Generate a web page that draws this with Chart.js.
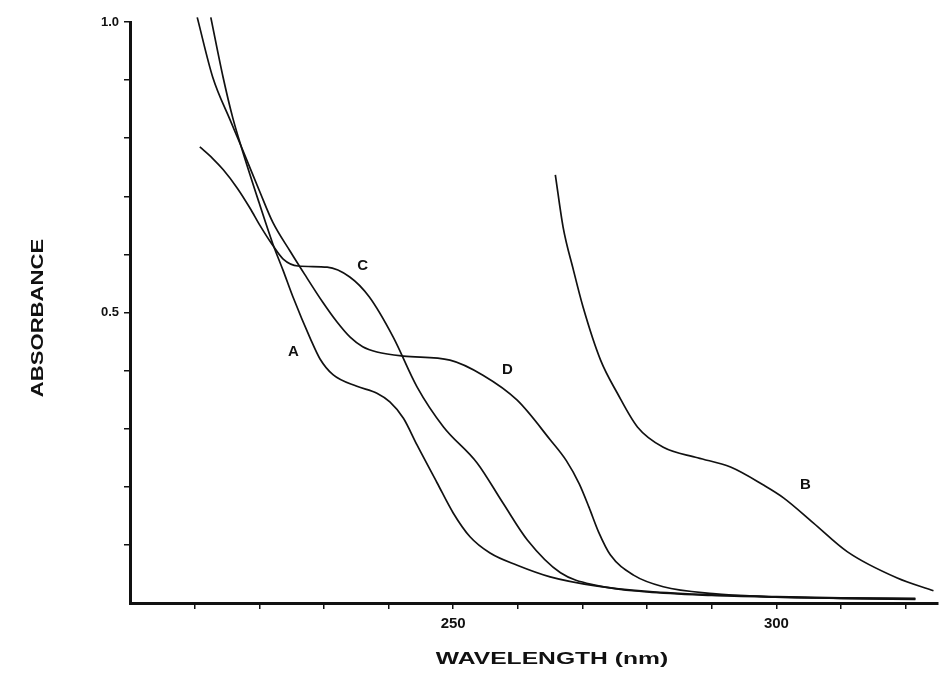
<!DOCTYPE html>
<html>
<head>
<meta charset="utf-8">
<script src="https://cdn.jsdelivr.net/npm/chart.js@4.4.1/dist/chart.umd.min.js"></script>
<style>
  html, body { margin: 0; padding: 0; background: #fff; }
  #wrap { width: 940px; height: 696px; }
</style>
</head>
<body>
<div id="wrap"><canvas id="spectra" width="940" height="696"></canvas></div>
<script>
// Wavelength (nm) / absorbance readings for each spectrum
const aNm  = [212.5, 214.4, 215.9, 217.3, 220.0, 222.1, 223.7, 225.2, 227.9, 229.4, 231.4, 235.1, 238.2, 240.2, 242.3, 244.4, 247.5, 250.0, 252.6, 255.7, 259.9, 265.0, 272.3, 280, 290, 300, 310, 321.5];
const aAbs = [1.008, 0.905, 0.835, 0.782, 0.688, 0.618, 0.572, 0.527, 0.455, 0.420, 0.393, 0.373, 0.361, 0.346, 0.318, 0.272, 0.207, 0.155, 0.114, 0.086, 0.065, 0.045, 0.029, 0.020, 0.014, 0.011, 0.009, 0.008];

const bNm  = [265.8, 267.0, 268.6, 270.1, 272.8, 275.4, 278.5, 282.5, 287.8, 292.9, 298.0, 301.1, 305.7, 311.0, 318.7, 324.3];
const bAbs = [0.737, 0.647, 0.573, 0.509, 0.418, 0.361, 0.303, 0.268, 0.250, 0.234, 0.203, 0.181, 0.138, 0.088, 0.043, 0.021];

const cNm  = [210.8, 212.8, 214.4, 216.6, 218.6, 220.1, 222.0, 223.7, 226.0, 230.5, 234.0, 237.0, 240.7, 244.4, 248.5, 253.7, 257.7, 261.5, 266.6, 272.3, 280, 290, 300, 310, 321.5];
const cAbs = [0.785, 0.765, 0.746, 0.714, 0.679, 0.650, 0.617, 0.592, 0.580, 0.578, 0.561, 0.527, 0.458, 0.372, 0.303, 0.241, 0.172, 0.108, 0.052, 0.030, 0.019, 0.013, 0.010, 0.008, 0.007];

const dNm  = [210.4, 212.8, 215.5, 217.5, 220.0, 222.1, 224.8, 227.0, 229.8, 232.0, 234.1, 236.0, 238.2, 242.3, 249.5, 254.6, 259.9, 265.0, 267.5, 269.5, 271.0, 272.5, 274.3, 277.9, 282.5, 290.2, 298, 310, 321.5];
const dAbs = [1.008, 0.905, 0.831, 0.778, 0.710, 0.655, 0.605, 0.566, 0.518, 0.484, 0.457, 0.441, 0.432, 0.425, 0.418, 0.392, 0.349, 0.281, 0.245, 0.205, 0.165, 0.122, 0.083, 0.048, 0.028, 0.016, 0.011, 0.008, 0.006];

// Axis ticks and labels
const xTicks = [210, 220, 230, 240, 250, 260, 270, 280, 290, 300, 310, 320];
const xLabels = { 250: '250', 300: '300' };
const yTicks = [0.1, 0.2, 0.3, 0.4, 0.5, 0.6, 0.7, 0.8, 0.9, 1.0];
const yLabels = { '0.5': '0.5', '1.0': '1.0' };

// Curve names
const seriesNames = ['A', 'B', 'C', 'D'];

const toPoints = (xs, ys) => xs.map((x, i) => ({ x, y: ys[i] }));

// Where the curve letters sit (data coordinates)
const letterSpots = {
  A: [225.3, 0.432],
  B: [304.5, 0.203],
  C: [236.0, 0.580],
  D: [258.4, 0.401]
};

const FONT = '"Liberation Sans", Arial, Helvetica, sans-serif';

const annotate = {
  id: 'annotate',
  afterDraw(chart) {
    const { ctx, scales: { x, y } } = chart;
    ctx.save();
    ctx.fillStyle = '#111';
    ctx.textAlign = 'center';
    ctx.textBaseline = 'middle';

    // curve letters
    ctx.font = `bold 15px ${FONT}`;
    seriesNames.forEach(name => {
      const [nm, ab] = letterSpots[name];
      ctx.fillText(name, x.getPixelForValue(nm), y.getPixelForValue(ab));
    });

    // x title (wide lettering like the original)
    ctx.font = `bold 17px ${FONT}`;
    ctx.save();
    ctx.translate(552, 659);
    ctx.scale(1.45, 1);
    ctx.fillText('WAVELENGTH (nm)', 0, 0);
    ctx.restore();

    // y title
    ctx.save();
    ctx.translate(38, 318);
    ctx.rotate(-Math.PI / 2);
    ctx.scale(1.3, 1);
    ctx.fillText('ABSORBANCE', 0, 0);
    ctx.restore();

    ctx.restore();
  }
};

const lineStyle = {
  borderColor: '#111',
  borderWidth: 1.7,
  pointRadius: 0,
  fill: false,
  cubicInterpolationMode: 'monotone',
  clip: 8
};

new Chart(document.getElementById('spectra'), {
  type: 'line',
  data: {
    datasets: [
      { label: seriesNames[0], data: toPoints(aNm, aAbs), ...lineStyle },
      { label: seriesNames[1], data: toPoints(bNm, bAbs), ...lineStyle },
      { label: seriesNames[2], data: toPoints(cNm, cAbs), ...lineStyle },
      { label: seriesNames[3], data: toPoints(dNm, dAbs), ...lineStyle }
    ]
  },
  options: {
    responsive: false,
    animation: false,
    devicePixelRatio: 1,
    layout: { padding: { left: 0, right: 2, top: 22, bottom: 0 } },
    plugins: { legend: { display: false }, tooltip: { enabled: false } },
    scales: {
      x: {
        type: 'linear',
        min: 200,
        max: 325,
        afterBuildTicks: s => { s.ticks = xTicks.map(v => ({ value: v })); },
        afterFit: s => { s.height = 93; },
        border: { display: true, color: '#111', width: 3 },
        grid: { display: true, drawOnChartArea: false, drawTicks: true, tickLength: 6, color: '#111', lineWidth: 1.5 },
        ticks: {
          autoSkip: false,
          maxRotation: 0,
          padding: 6,
          color: '#111',
          font: { family: FONT, size: 15, weight: 'bold' },
          callback: v => xLabels[v] || ''
        }
      },
      y: {
        type: 'linear',
        min: 0,
        max: 1.0,
        afterBuildTicks: s => { s.ticks = yTicks.map(v => ({ value: v })); },
        afterFit: s => { s.width = 130; },
        border: { display: true, color: '#111', width: 3 },
        grid: { display: true, drawOnChartArea: false, drawTicks: true, tickLength: 6, color: '#111', lineWidth: 1.5 },
        ticks: {
          autoSkip: false,
          padding: 5,
          color: '#111',
          font: { family: FONT, size: 13, weight: 'bold' },
          callback: v => yLabels[v.toFixed(1)] || ''
        }
      }
    }
  },
  plugins: [annotate]
});
</script>
</body>
</html>
